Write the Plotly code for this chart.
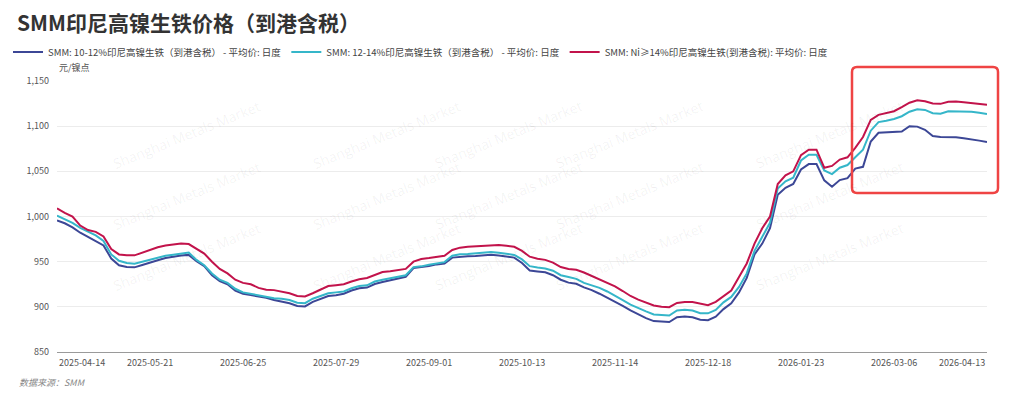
import plotly.graph_objects as go

# trading-day index of each sampled point (sampled every 2 trading days)
day_idx = list(range(0, 241, 2))

tick_idx = [0, 24, 48, 72, 96, 120, 144, 168, 192, 216, 240]
tick_labels = ["2025-04-14", "2025-05-21", "2025-06-25", "2025-07-29", "2025-09-01",
               "2025-10-13", "2025-11-14", "2025-12-18", "2026-01-23", "2026-03-06",
               "2026-04-13"]

ni_10_12 = [995.7, 992.5, 988, 982, 977.5, 973, 968, 953.5, 946, 944,
            943.7, 946.3, 948.5, 951.5, 954, 955.8, 956.8, 957.5, 950.5, 945,
            935, 928.5, 925, 918, 914.5, 913, 911.5, 910, 907.5, 906,
            904, 901, 900.5, 905.5, 909, 912, 912.8, 914.5, 918, 920.5,
            921.3, 925.3, 927.5, 929.5, 931.2, 933.3, 943, 943.7, 945.2, 947,
            947.8, 954.5, 955.5, 956, 956.4, 957.2, 957.7, 956.8, 955.5, 954.5,
            948.5, 940.3, 939.2, 938.2, 935, 930, 926.8, 925.5, 921.5, 918.5,
            914.5, 910.2, 906, 901, 896, 891.5, 887.5, 884.2, 883.5, 883.2,
            888.5, 889.2, 888.5, 885.8, 885.2, 889, 897.5, 904, 916, 932,
            958, 970, 987, 1024, 1031.8, 1036, 1052, 1058, 1058, 1040,
            1033, 1040.3, 1042.5, 1053, 1055, 1083, 1092.6, 1093.2, 1093.5, 1094,
            1100, 1099.5, 1096, 1089, 1088, 1087.8, 1087.6, 1086.5, 1085.5, 1084,
            1082.5]

ni_12_14 = [1001, 997, 993, 987.5, 983, 979, 973, 958, 951, 948.5,
            947.7, 950, 952, 954.5, 956.6, 957.7, 958.8, 960, 952, 946,
            937, 930, 926.5, 920, 916, 914.3, 912.8, 911, 909.5, 909,
            907.5, 904.5, 904, 909, 912, 915, 916, 917, 920.5, 923,
            923.8, 928, 930, 931.5, 932.8, 935, 944, 944.8, 946.5, 948.3,
            949.5, 956.5, 958.2, 958.5, 959.2, 960, 960.6, 959.8, 959, 957.5,
            952.5, 945, 943.5, 942.5, 940, 935, 933, 931, 926.5, 924,
            921, 917, 912.7, 907.5, 902.5, 898.5, 895, 891.6, 890.8, 890.4,
            896, 896.8, 896, 893, 892.8, 896.5, 905, 911, 922, 937,
            962, 977, 993, 1031, 1039, 1043, 1062, 1068.4, 1068.4, 1051,
            1047, 1054, 1057, 1065.5, 1074, 1095, 1104.5, 1106, 1108, 1111,
            1116, 1118.8, 1118, 1114.4, 1113.8, 1116.5, 1116.5, 1116.2, 1115.9, 1114.8,
            1113.5]

ni_14_plus = [1009, 1004, 1000, 990, 985, 983, 978, 964, 958, 957,
              957, 960, 963, 966, 968, 969, 970, 969.5, 964, 959,
              950, 942, 937, 930, 926.5, 925, 921, 919, 918.5, 916.5,
              915, 912, 911.5, 915, 919, 923, 924, 925, 928, 930.5,
              932, 935.5, 938.5, 939.5, 941, 942, 950, 953, 954, 955.5,
              956.6, 963, 965.5, 966.5, 967, 968, 968.5, 968.5, 967.5, 966.5,
              962, 955.5, 953.3, 952, 949, 944, 942, 941, 938, 934,
              930.5, 926, 922.6, 917.5, 912, 908, 904.5, 901.5, 900.2, 899.6,
              904.3, 905.3, 905.3, 903.5, 901.8, 905.5, 911.5, 918, 933, 948,
              970, 987, 1000, 1036, 1045.5, 1050, 1068, 1074, 1074, 1054,
              1056, 1063, 1065.5, 1076, 1088, 1107, 1112.5, 1114.5, 1116.5, 1121,
              1126, 1128.7, 1127.5, 1125, 1124.7, 1127, 1127.2, 1126.5, 1125.8, 1124.8,
              1123.7]

series = [
    ("SMM: 10-12%印尼高镍生铁（到港含税） - 平均价: 日度", ni_10_12, "#3c4796"),
    ("SMM: 12-14%印尼高镍生铁（到港含税） - 平均价: 日度", ni_12_14, "#35b6c9"),
    ("SMM: Ni≥14%印尼高镍生铁(到港含税): 平均价: 日度", ni_14_plus, "#c2134b"),
]

FONT = "Noto Sans CJK SC, Noto Sans, sans-serif"

fig = go.Figure()
for name, vals, color in series:
    fig.add_trace(go.Scatter(x=day_idx, y=vals, name=name, mode="lines",
                             line=dict(color=color, width=2)))

# page is 1024x399 but the body has an 8px default margin
OFF = 8
W, H = 1024 - OFF, 399 - OFF
PL, PR, PT, PB = 57, 987, 81, 352          # plot area in page pixels
L, R, T, B = PL - OFF, 1024 - PR, PT - OFF, 399 - PB
pw, ph = PR - PL, PB - PT

def px(xp):
    return (xp - PL) / pw

def py(yp):
    return (PB - yp) / ph

annotations = []
# x tick labels (first left-aligned, last right-aligned)
for i, (ti, tl) in enumerate(zip(tick_idx, tick_labels)):
    anchor = "left" if i == 0 else ("right" if i == len(tick_idx) - 1 else "center")
    annotations.append(dict(x=ti, y=0, xref="x", yref="paper", text=tl, showarrow=False,
                            xanchor=anchor, yanchor="top", yshift=-2,
                            font=dict(size=9, color="#555", family=FONT)))

# watermarks
for cx in [108, 308, 508, 708, 908]:
    for cy in [94, 195, 297]:
        annotations.append(dict(x=px(cx), y=py(cy), xref="paper", yref="paper",
                                text="Shanghai Metals Market", showarrow=False,
                                textangle=-22, font=dict(size=14, color="rgba(0,0,0,0.06)",
                                                         family="Open Sans, sans-serif")))

annotations.append(dict(x=0, y=py(67), xref="paper", yref="paper", text="元/镍点",
                        showarrow=False, xanchor="left", yanchor="middle",
                        font=dict(size=9, color="#555", family=FONT)))
annotations.append(dict(x=px(17), y=py(382), xref="paper", yref="paper",
                        text="<i>数据来源：SMM</i>", showarrow=False, xanchor="left",
                        yanchor="middle", font=dict(size=9, color="#888", family=FONT)))

# highlight box with rounded corners
x0, x1, y0, y1 = px(852), px(998), py(193), py(67)
rx, ry = 5 / pw, 5 / ph
path = (f"M {x0+rx},{y1} L {x1-rx},{y1} Q {x1},{y1} {x1},{y1-ry} "
        f"L {x1},{y0+ry} Q {x1},{y0} {x1-rx},{y0} L {x0+rx},{y0} "
        f"Q {x0},{y0} {x0},{y0+ry} L {x0},{y1-ry} Q {x0},{y1} {x0+rx},{y1} Z")

fig.update_layout(
    width=W, height=H,
    margin=dict(l=L, r=R, t=T, b=B, pad=0, autoexpand=False),
    paper_bgcolor="white", plot_bgcolor="white",
    font=dict(family=FONT, color="#444"),
    title=dict(text="<b>SMM印尼高镍生铁价格（到港含税）</b>", x=(17 - OFF) / W,
               xref="container", xanchor="left", y=1 - (24 - OFF) / H, yanchor="middle",
               font=dict(size=21, color="#333", family=FONT)),
    showlegend=True,
    legend=dict(orientation="h", x=px(8), y=py(52), xref="paper", yref="paper",
                xanchor="left", yanchor="middle", font=dict(size=9.5, color="#444", family=FONT),
                itemwidth=30, tracegroupgap=0, bgcolor="rgba(0,0,0,0)"),
    xaxis=dict(range=[0, 240], showgrid=False, showticklabels=False, ticks="",
               showline=True, linecolor="#9a9a9a", linewidth=1, zeroline=False,
               fixedrange=True, automargin=False),
    yaxis=dict(range=[850, 1150], tickvals=[850, 900, 950, 1000, 1050, 1100, 1150],
               tickformat=",", showgrid=True, gridcolor="#ececec", gridwidth=1,
               zeroline=False, showline=False, ticks="", ticklabelstandoff=7,
               automargin=False, tickfont=dict(size=9, color="#555", family=FONT)),
    annotations=annotations,
    shapes=[dict(type="path", path=path, xref="paper", yref="paper",
                 line=dict(color="#ef4444", width=2.5), fillcolor="rgba(0,0,0,0)")],
    hovermode="x unified",
)

fig.write_html("out.html")
